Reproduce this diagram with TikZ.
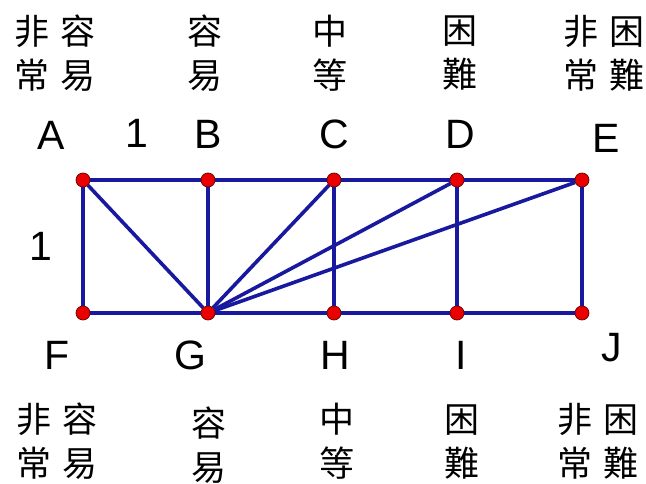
\documentclass[tikz,border=0pt]{standalone}
\usepackage{fontspec}
\setmainfont{Liberation Sans}
\newfontfamily\cjk{Noto Sans CJK TC}
\usetikzlibrary{positioning,backgrounds}
\definecolor{edgeblue}{RGB}{25,25,160}
\definecolor{dotred}{RGB}{235,0,0}
\newcommand{\cjkgap}{\hspace{0.3em}}
\begin{document}
\begin{tikzpicture}[x=1pt,y=-1pt,
  vtx/.style={circle,fill=dotred,draw=red!40!black,line width=0.7pt,inner sep=0pt,minimum size=14pt},
  edge/.style={edgeblue,line width=3.6pt},
  lbl/.style={font=\fontsize{41}{41}\selectfont,inner sep=0pt},
  cjklbl/.style={font=\cjk\fontsize{35}{44}\selectfont,align=center,inner sep=0pt}]
\useasboundingbox (0,0) rectangle (646,484);
\foreach \n/\x in {A/83,B/208,C/334,D/457,E/582} {
   \node[vtx] (\n) at (\x,180) {};
}
\foreach \n/\x in {F/83,G/208,H/334,I/457,J/582} {
   \node[vtx] (\n) at (\x,313) {};
}
\begin{scope}[on background layer]
\draw[edge] (A) -- (B) -- (C) -- (D) -- (E);
\draw[edge] (F) -- (G) -- (H) -- (I) -- (J);
\foreach \t/\b in {A/F,B/G,C/H,D/I,E/J,A/G,C/G,D/G,E/G} {
   \draw[edge] (\t) -- (\b);
}
\end{scope}
% vertex letters
\foreach \n/\x/\y in {A/51/135,B/208/134,C/334/134,D/460/134,E/606/138,%
   F/57/355,G/190/355,H/335/355,I/461/355,J/612/348} {
   \node[lbl] (lbl\n) at (\x,\y) {\n};
}
\node[lbl] (unitx) at (137,133) {1};
\node[lbl] (unity) at (41,246) {1};
% difficulty levels
\node[cjklbl] (topA) at (55,53) {非\cjkgap 容\\常\cjkgap 易};
\node[cjklbl] (topB) at (205,53) {容\\易};
\node[cjklbl] (topC) at (330,53) {中\\等};
\node[cjklbl] (topD) at (460,53) {困\\難};
\node[cjklbl] (topE) at (604,53) {非\cjkgap 困\\常\cjkgap 難};
\node[cjklbl] (botF) at (57,441) {非\cjkgap 容\\常\cjkgap 易};
\node[cjklbl] (botG) at (209,445) {容\\易};
\node[cjklbl] (botH) at (337,441) {中\\等};
\node[cjklbl] (botI) at (462,442) {困\\難};
\node[cjklbl] (botJ) at (598,441) {非\cjkgap 困\\常\cjkgap 難};
\end{tikzpicture}
\end{document}
